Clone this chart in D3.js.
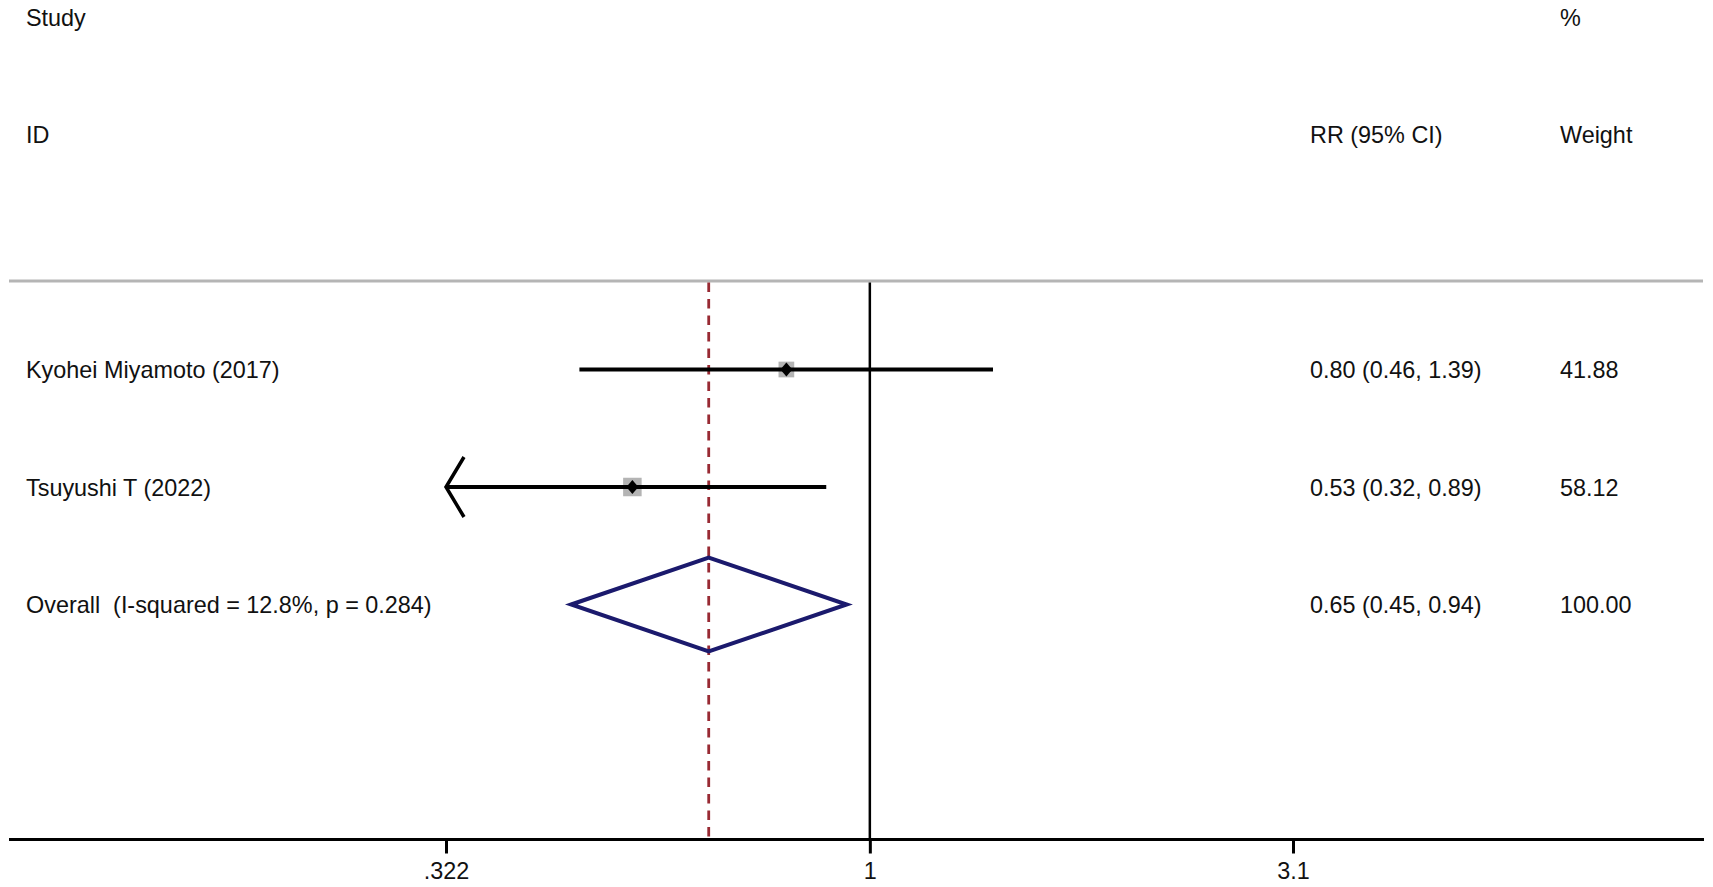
<!DOCTYPE html>
<html>
<head>
<meta charset="utf-8">
<script src="https://cdn.jsdelivr.net/npm/d3@7"></script>
<style>
  html, body { margin: 0; padding: 0; background: #fff; }
  svg { display: block; }
  text { font-family: "Liberation Sans", Arial, Helvetica, sans-serif; font-size: 23.4px; fill: #111; white-space: pre; }
</style>
</head>
<body>
<svg id="chart" width="1713" height="887"></svg>
<script>
// ---- data ----
const studies = ["Kyohei Miyamoto (2017)", "Tsuyushi T (2022)"];
const rr = [0.80, 0.53];
const lower = [0.46, 0.32];
const upper = [1.39, 0.89];
const weights = [41.88, 58.12];

const overallLabel = "Overall  (I-squared = 12.8%, p = 0.284)";
const overallRR = 0.65;
const overallLower = 0.45;
const overallUpper = 0.94;
const overallWeight = 100.00;

const tickValues = [0.322, 1, 3.1];
const tickLabels = [".322", "1", "3.1"];

const headerTop = ["Study", "", "%"];
const headerBottom = ["ID", "RR (95% CI)", "Weight"];

// ---- layout ----
const W = 1713, H = 887;
const svg = d3.select("#chart");

const x = d3.scaleLog().domain([tickValues[0], tickValues[2]]).range([446, 1293]);
const y = d3.scaleLinear().domain([0, 7]).range([17, 839.5]);
const colX = [26, 1310, 1560];
const textOff = 8.5;
const axisY = y(7);
const lineTop = 281;

// header texts
headerTop.forEach((t, i) => {
  if (t) svg.append("text").attr("x", colX[i]).attr("y", y(0) + textOff).text(t);
});
headerBottom.forEach((t, i) => {
  svg.append("text").attr("x", colX[i]).attr("y", y(1) + textOff).text(t);
});

// header separator
svg.append("line")
  .attr("x1", 9).attr("x2", 1703)
  .attr("y1", lineTop).attr("y2", lineTop)
  .attr("stroke", "#b5b5b5").attr("stroke-width", 3);

// null line
svg.append("line")
  .attr("x1", x(1)).attr("x2", x(1))
  .attr("y1", lineTop + 1.5).attr("y2", axisY)
  .attr("stroke", "#000").attr("stroke-width", 2.5);

// overall dashed line
svg.append("line")
  .attr("x1", x(overallRR)).attr("x2", x(overallRR))
  .attr("y1", lineTop + 1.5).attr("y2", axisY)
  .attr("stroke", "#982a33").attr("stroke-width", 2.8)
  .attr("stroke-dasharray", "9.5,7");

// study rows
const boxScale = 18.5 / Math.sqrt(58.12);
const [xmin, xmax] = x.domain();
studies.forEach((s, i) => {
  const cy = y(3 + i);
  svg.append("text").attr("x", colX[0]).attr("y", cy + textOff).text(s);
  svg.append("text").attr("x", colX[1]).attr("y", cy + textOff)
    .text(`${rr[i].toFixed(2)} (${lower[i].toFixed(2)}, ${upper[i].toFixed(2)})`);
  svg.append("text").attr("x", colX[2]).attr("y", cy + textOff).text(weights[i].toFixed(2));

  const lo = Math.max(lower[i], xmin), hi = Math.min(upper[i], xmax);
  // weight box
  const side = boxScale * Math.sqrt(weights[i]);
  svg.append("rect")
    .attr("x", x(rr[i]) - side / 2).attr("y", cy - side / 2)
    .attr("width", side).attr("height", side)
    .attr("fill", "#b4b4b4");
  // CI line
  svg.append("line")
    .attr("x1", x(lo)).attr("x2", x(hi)).attr("y1", cy).attr("y2", cy)
    .attr("stroke", "#000").attr("stroke-width", 3.8);
  if (lower[i] < xmin) {
    svg.append("path")
      .attr("d", `M${x(lo) + 18},${cy - 30} L${x(lo)},${cy} L${x(lo) + 18},${cy + 30}`)
      .attr("fill", "none").attr("stroke", "#000").attr("stroke-width", 3.5);
  }
  // point diamond
  const px = x(rr[i]);
  svg.append("path")
    .attr("d", `M${px},${cy - 7} L${px + 6},${cy} L${px},${cy + 7} L${px - 6},${cy} Z`)
    .attr("fill", "#000");
});

// overall row
const oy = y(5);
svg.append("text").attr("x", colX[0]).attr("y", oy + textOff).text(overallLabel);
svg.append("text").attr("x", colX[1]).attr("y", oy + textOff)
  .text(`${overallRR.toFixed(2)} (${overallLower.toFixed(2)}, ${overallUpper.toFixed(2)})`);
svg.append("text").attr("x", colX[2]).attr("y", oy + textOff).text(overallWeight.toFixed(2));
svg.append("path")
  .attr("d", `M${x(overallLower)},${oy} L${x(overallRR)},${oy - 47} L${x(overallUpper)},${oy} L${x(overallRR)},${oy + 47} Z`)
  .attr("fill", "none").attr("stroke", "#1b1a6d").attr("stroke-width", 4)
  .attr("stroke-linejoin", "miter");

// x axis
const axis = d3.axisBottom(x)
  .tickValues(tickValues)
  .tickFormat((d, i) => tickLabels[i])
  .tickSize(14).tickSizeOuter(0).tickPadding(9);
const gAxis = svg.append("g").attr("transform", `translate(0,${axisY})`).call(axis);
gAxis.select(".domain").remove();
gAxis.selectAll(".tick line").attr("stroke", "#000").attr("stroke-width", 3);
gAxis.selectAll(".tick text")
  .style("font-family", '"Liberation Sans", Arial, Helvetica, sans-serif')
  .style("font-size", "23.4px").attr("fill", "#111");
gAxis.append("line")
  .attr("x1", 9).attr("x2", 1704).attr("y1", 0).attr("y2", 0)
  .attr("stroke", "#000").attr("stroke-width", 3);
</script>
</body>
</html>
